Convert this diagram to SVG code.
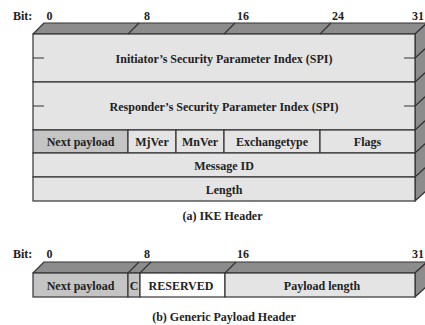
<svg xmlns="http://www.w3.org/2000/svg" width="425" height="325" viewBox="0 0 425 325">
<style>
text{font-family:"Liberation Serif","Times New Roman",serif;font-weight:bold;font-size:12px;fill:#222}
.c{text-anchor:middle}
.e{text-anchor:end}
.face{fill:#8c8c8c;stroke:#333;stroke-width:1.2;stroke-linejoin:round}
.cell{fill:#e4e4e4;stroke:#333;stroke-width:1.2}
.dark{fill:#c4c4c4}
.white{fill:#ffffff}
.ln{stroke:#333;stroke-width:1.2;fill:none}
</style>
<rect width="425" height="325" fill="#ffffff"/>

<!-- (a) IKE Header -->
<g id="ike-bits">
<text x="13" y="20">Bit:</text>
<text x="49.5" y="20" class="c">0</text>
<text x="147" y="20" class="c">8</text>
<text x="243" y="20" class="c">16</text>
<text x="338" y="20" class="c">24</text>
<text x="424" y="20" class="e">31</text>
</g>
<g id="ike-box3d">
<polygon class="face" points="33,34 44,23 427,23 415,34"/>
<polygon class="face" points="415,34 427,23 427,190 415,201"/>
</g>
<g id="ike-spi-i">
<rect class="cell" x="33" y="34" width="382" height="48"/>
<text x="224" y="63" class="c">Initiator’s Security Parameter Index (SPI)</text>
</g>
<g id="ike-spi-r">
<rect class="cell" x="33" y="82" width="382" height="48"/>
<text x="224" y="111" class="c">Responder’s Security Parameter Index (SPI)</text>
</g>
<g id="ike-next">
<rect class="cell dark" x="33" y="130" width="95" height="23"/>
<text x="80.5" y="146" class="c">Next payload</text>
</g>
<g id="ike-mjver">
<rect class="cell" x="128" y="130" width="48" height="23"/>
<text x="152" y="146" class="c">MjVer</text>
</g>
<g id="ike-mnver">
<rect class="cell" x="176" y="130" width="48" height="23"/>
<text x="200" y="146" class="c">MnVer</text>
</g>
<g id="ike-exch">
<rect class="cell" x="224" y="130" width="96" height="23"/>
<text x="272" y="146" class="c">Exchangetype</text>
</g>
<g id="ike-flags">
<rect class="cell" x="320" y="130" width="95" height="23"/>
<text x="367.5" y="146" class="c">Flags</text>
</g>
<g id="ike-msgid">
<rect class="cell" x="33" y="153" width="382" height="24"/>
<text x="224" y="170" class="c">Message ID</text>
</g>
<g id="ike-length">
<rect class="cell" x="33" y="177" width="382" height="24"/>
<text x="224" y="194" class="c">Length</text>
</g>
<g id="ike-lines">
<path class="ln" d="M128,34 L139,23 M224,34 L235,23 M320,34 L331,23"/>
<path class="ln" d="M415,58 L427,47 M415,82 L427,71 M415,106 L427,95 M415,130 L427,119 M415,153 L427,142 M415,177 L427,166"/>
<path class="ln" d="M33,58 H44 M33,106 H44 M404,58 H415 M404,106 H415"/>
</g>
<text x="222.5" y="220" class="c">(a) IKE Header</text>

<!-- (b) Generic Payload Header -->
<g id="gph-bits">
<text x="13" y="258">Bit:</text>
<text x="49.5" y="258" class="c">0</text>
<text x="147" y="258" class="c">8</text>
<text x="243" y="258" class="c">16</text>
<text x="424" y="258" class="e">31</text>
</g>
<g id="gph-box3d">
<polygon class="face" points="33,273 44,262 427,262 415,273"/>
<polygon class="face" points="415,273 427,262 427,286 415,297"/>
</g>
<g id="gph-next">
<rect class="cell dark" x="33" y="273" width="95" height="24"/>
<text x="80.5" y="290" class="c">Next payload</text>
</g>
<g id="gph-c">
<rect class="cell dark" x="128" y="273" width="12" height="24"/>
<text x="134" y="290" class="c">C</text>
</g>
<g id="gph-reserved">
<rect class="cell white" x="140" y="273" width="85" height="24"/>
<text x="181" y="290" class="c">RESERVED</text>
</g>
<g id="gph-plen">
<rect class="cell" x="225" y="273" width="190" height="24"/>
<text x="322" y="290" class="c">Payload length</text>
</g>
<g id="gph-lines">
<path class="ln" d="M128,273 L139,262 M140,273 L151,262 M225,273 L236,262"/>
</g>
<text x="224" y="321" class="c">(b) Generic Payload Header</text>
</svg>
